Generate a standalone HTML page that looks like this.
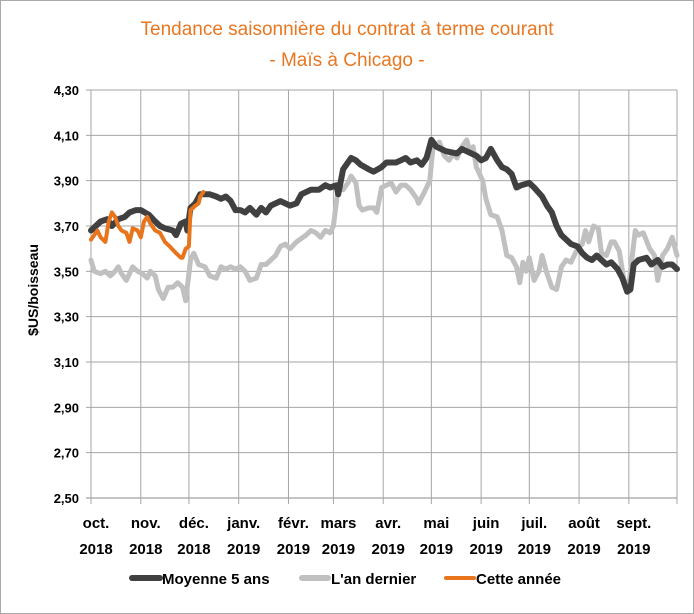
<!DOCTYPE html>
<html><head><meta charset="utf-8"><style>
body{margin:0;background:#fff;}
svg{display:block;font-family:"Liberation Sans",sans-serif;}
</style></head><body>
<svg id="chart" width="694" height="614" viewBox="0 0 694 614" xmlns="http://www.w3.org/2000/svg">
<rect x="0.5" y="0.5" width="693" height="613" fill="#fff" stroke="#aaa"/>
<text x="347" y="35" text-anchor="middle" font-size="19" fill="#E87722">Tendance saisonnière du contrat à terme courant</text>
<text x="347" y="66" text-anchor="middle" font-size="19" fill="#E87722">- Maïs à Chicago -</text>
<text transform="translate(38,290) rotate(-90)" text-anchor="middle" font-size="14" font-weight="bold" fill="#000">$US/boisseau</text>
<g id="grid"></g><g id="series"></g><g id="labels"></g>
<g>
<line x1="132" y1="578" x2="160" y2="578" stroke="#404040" stroke-width="6" stroke-linecap="round"/>
<text x="162" y="584" font-size="15" font-weight="bold">Moyenne 5 ans</text>
<line x1="302" y1="578" x2="328" y2="578" stroke="#c0c0c0" stroke-width="6" stroke-linecap="round"/>
<text x="331" y="584" font-size="15" font-weight="bold">L'an dernier</text>
<line x1="446" y1="578" x2="474" y2="578" stroke="#E8741C" stroke-width="4" stroke-linecap="round"/>
<text x="476" y="584" font-size="15" font-weight="bold">Cette année</text>
</g>
</svg>
<script>
const months=["oct.","nov.","déc.","janv.","févr.","mars","avr.","mai","juin","juil.","août","sept."];
const years=["2018","2018","2018","2019","2019","2019","2019","2019","2019","2019","2019","2019"];
const monthDays=[31,30,31,31,28,31,30,31,30,31,31,30];
const yTicks=[2.5,2.7,2.9,3.1,3.3,3.5,3.7,3.9,4.1,4.3];
const avgDays=[0,6,10,13,17,21,24,28,31,36,40,43,46,51,53,56,59,60,62,65,68,74,78,81,84,87,90,93,96,99,103,106,109,112,118,124,128,131,137,142,146,149,153,154,157,162,165,168,173,176,181,184,190,193,196,199,203,206,209,212,215,218,221,228,231,237,240,243,246,249,253,256,259,262,265,268,273,276,281,284,287,290,293,296,299,303,306,309,312,315,318,321,324,328,331,334,336,338,341,346,349,353,356,359,362,365];
const avgVals=[3.68,3.72,3.73,3.70,3.73,3.74,3.76,3.77,3.77,3.75,3.72,3.70,3.69,3.68,3.66,3.71,3.72,3.68,3.78,3.80,3.84,3.84,3.83,3.82,3.83,3.81,3.77,3.77,3.76,3.78,3.75,3.78,3.76,3.79,3.81,3.79,3.80,3.84,3.86,3.86,3.88,3.87,3.88,3.84,3.95,4.00,3.99,3.97,3.95,3.94,3.96,3.98,3.98,3.99,4.00,3.98,3.99,3.97,4.00,4.08,4.05,4.04,4.03,4.02,4.04,4.02,4.01,3.99,4.00,4.04,3.99,3.96,3.95,3.93,3.87,3.88,3.89,3.87,3.83,3.79,3.76,3.70,3.66,3.64,3.62,3.61,3.58,3.56,3.55,3.57,3.55,3.53,3.54,3.51,3.47,3.41,3.42,3.53,3.55,3.56,3.53,3.55,3.52,3.53,3.53,3.51];
const lastDays=[0,2,6,9,12,15,17,19,22,26,29,32,35,37,40,42,45,48,51,54,57,59,62,64,67,71,74,78,81,84,87,90,93,96,99,103,106,109,115,118,121,124,128,134,137,140,143,146,149,151,154,157,160,162,165,167,169,173,176,178,181,184,187,190,193,196,199,203,204,207,211,213,217,220,223,226,228,231,234,236,238,240,244,246,249,253,256,259,262,265,267,269,271,273,276,279,281,284,287,290,293,296,299,303,306,308,310,313,316,318,321,324,326,329,332,335,339,341,344,348,351,353,356,359,362,365];
const lastVals=[3.55,3.50,3.49,3.50,3.48,3.50,3.52,3.49,3.46,3.52,3.50,3.49,3.47,3.50,3.48,3.42,3.38,3.43,3.43,3.45,3.43,3.37,3.55,3.58,3.53,3.52,3.48,3.47,3.52,3.51,3.52,3.51,3.52,3.50,3.46,3.47,3.53,3.53,3.57,3.61,3.62,3.60,3.63,3.66,3.68,3.67,3.65,3.68,3.67,3.70,3.87,3.86,3.89,3.92,3.89,3.79,3.77,3.78,3.78,3.76,3.87,3.88,3.89,3.85,3.88,3.88,3.86,3.82,3.80,3.84,3.90,4.05,4.07,4.01,3.99,4.02,4.00,4.05,4.08,4.03,4.05,3.96,3.90,3.82,3.75,3.74,3.68,3.57,3.56,3.52,3.45,3.54,3.50,3.56,3.46,3.50,3.57,3.49,3.43,3.42,3.52,3.55,3.54,3.60,3.62,3.68,3.63,3.70,3.69,3.58,3.57,3.63,3.63,3.59,3.46,3.44,3.68,3.66,3.67,3.60,3.57,3.46,3.57,3.60,3.65,3.57];
const curDays=[0,2,4,6,9,11,13,15,17,19,22,24,26,29,31,33,35,37,40,43,46,49,53,56,57,59,61,62,65,67,68,70];
const curVals=[3.64,3.66,3.68,3.65,3.63,3.72,3.76,3.74,3.70,3.68,3.67,3.63,3.69,3.68,3.65,3.72,3.74,3.71,3.68,3.67,3.63,3.61,3.58,3.56,3.56,3.60,3.61,3.77,3.79,3.80,3.83,3.85];

const L=91,R=677,T=90,B=498,NS="http://www.w3.org/2000/svg";
const xS=d=>L+d*(R-L)/365;
const yS=v=>B-(v-2.5)/(4.3-2.5)*(B-T);
function mk(tag,attrs,parent){const e=document.createElementNS(NS,tag);for(const k in attrs)e.setAttribute(k,attrs[k]);parent.appendChild(e);return e;}
const grid=document.getElementById('grid'),ser=document.getElementById('series'),lab=document.getElementById('labels');
yTicks.forEach(t=>{
  const g=mk('line',{x1:L-5,x2:R,y1:yS(t),y2:yS(t),stroke:t===2.5?'#888':'#a6a6a6','stroke-width':1},grid);
  
  
  const tx=mk('text',{x:L-12,y:yS(t)+5,'text-anchor':'end','font-size':13,'font-weight':'bold'},lab);
  tx.textContent=t.toFixed(2).replace('.',',');
  
  
});
let cum=0;
for(let i=0;i<=12;i++){
  const x=xS(cum);
  const g=mk('line',{x1:x,x2:x,y1:T,y2:B+6,stroke:'#a6a6a6','stroke-width':1},grid);
  
  
  if(i<12){
    const t1=mk('text',{x:x+5,y:528,'text-anchor':'middle','font-size':15,'font-weight':'bold'},lab);
    t1.textContent=months[i];
    
    
    const t2=mk('text',{x:x+5,y:554,'text-anchor':'middle','font-size':15,'font-weight':'bold'},lab);
    t2.textContent=years[i];
    
    
    cum+=monthDays[i];
  }
}
function line(days,vals,color,w,name){
  const d=days.map((dd,i)=>(i?'L':'M')+xS(dd).toFixed(1)+','+yS(vals[i]).toFixed(1)).join('');
  const p=mk('path',{d:d,fill:'none',stroke:color,'stroke-width':w,'stroke-linejoin':'round','stroke-linecap':'round'},ser);
  
  
}
line(lastDays,lastVals,'#c0c0c0',5,'series-last-year');
line(avgDays,avgVals,'#404040',6,'series-5yr-average');
line(curDays,curVals,'#E8741C',4,'series-this-year');
</script>
</body></html>
